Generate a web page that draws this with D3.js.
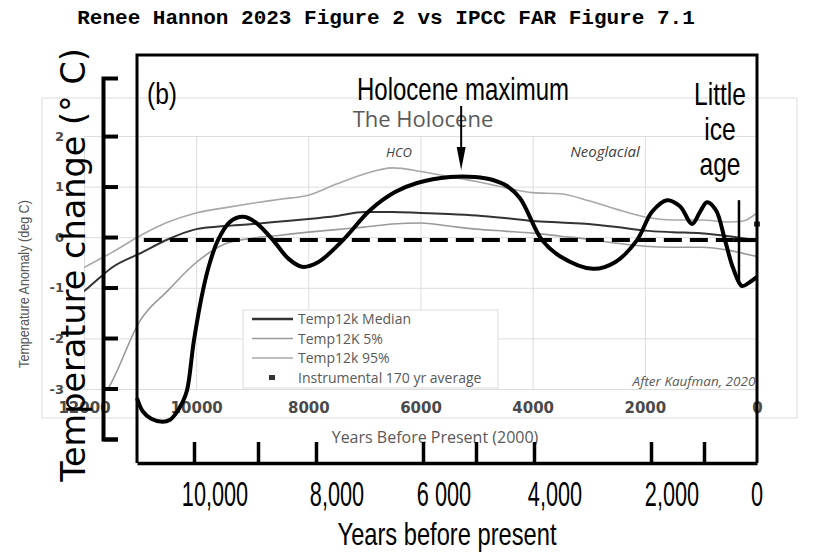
<!DOCTYPE html>
<html>
<head>
<meta charset="utf-8">
<script src="https://cdn.jsdelivr.net/npm/d3@7/dist/d3.min.js"></script>
<style>
    body { margin: 0; background: #fff; }
    svg { display: block; }
    .narrow { font-family: "Liberation Sans", Arial, sans-serif; }
    .xl { font-family: "Open Sans", "Liberation Sans", sans-serif; }
</style>
</head>
<body>
<svg width="829" height="559"></svg>
<script>
// Kaufman Temp12k curves (the grey background chart)
var kYears = [12000, 11700, 11500, 11000, 10500, 10000, 9500, 9000, 8500, 8000, 7500, 7000, 6500, 6000, 5500, 5000, 4500, 4000, 3500, 3000, 2500, 2000, 1500, 1000, 500, 250, 0];
var kMedian = [-1.07, -0.78, -0.60, -0.32, -0.04, 0.16, 0.22, 0.26, 0.31, 0.36, 0.42, 0.50, 0.50, 0.48, 0.46, 0.43, 0.38, 0.32, 0.29, 0.26, 0.20, 0.13, 0.10, 0.08, 0.02, -0.02, -0.06];
var k5 = [null, -3.25, -2.85, -1.65, -1.05, -0.50, -0.14, -0.02, 0.04, 0.10, 0.15, 0.20, 0.26, 0.28, 0.22, 0.16, 0.12, 0.08, 0.02, -0.04, -0.12, -0.18, -0.20, -0.20, -0.26, -0.32, -0.38];
var k95 = [-0.60, -0.42, -0.30, 0.03, 0.30, 0.48, 0.58, 0.67, 0.75, 0.83, 1.05, 1.25, 1.37, 1.30, 1.20, 1.10, 0.98, 0.88, 0.86, 0.72, 0.55, 0.40, 0.34, 0.34, 0.30, 0.32, 0.48];
var instYear = 0, instValue = 0.26;
var kXTicks = [12000, 10000, 8000, 6000, 4000, 2000, 0];
var kYTicks = [-3, -2, -1, 0, 1, 2];
var legendLabels = ["Temp12k Median", "Temp12K 5%", "Temp12k 95%", "Instrumental 170 yr average"];

// IPCC FAR 7.1(b) curve (the bold black chart)
var ipccYears = [11000, 10900, 10750, 10552, 10420, 10328, 10200, 10121, 10000, 9859, 9750, 9625, 9438, 9234, 9047, 8741, 8483, 8241, 7963, 7495, 6991, 6523, 6112, 5491, 5019, 4707, 4466, 4241, 3863, 3556, 2991, 2615, 2239, 1981, 1698, 1453, 1226, 1075, 943, 774, 604, 453, 283, 132, 0];
var ipccTemp = [-3.19, -3.45, -3.60, -3.66, -3.62, -3.51, -3.27, -3.03, -2.04, -1.05, -0.50, -0.06, 0.30, 0.40, 0.30, -0.06, -0.42, -0.59, -0.50, -0.06, 0.53, 0.89, 1.07, 1.19, 1.19, 1.13, 1.01, 0.77, -0.06, -0.38, -0.63, -0.50, -0.06, 0.50, 0.73, 0.61, 0.26, 0.50, 0.69, 0.53, -0.06, -0.61, -0.97, -0.89, -0.79];
var refLevel = -0.06;
var liaYear = 340, liaTop = 0.73, liaBottom = -0.87;
var holMaxYear = 5280;
var bTickYears = [10000, 9000, 8000, 6000, 5000, 4000, 2000, 1000];
var bLabelYears = [10000, 8000, 6000, 4000, 2000, 0];
var bLabels = ["10,000", "8,000", "6 000", "4,000", "2,000", "0"];
var bYTicks = [-4, -3, -2, -1, 0, 1, 2];

var svg = d3.select("svg");

// condensed looking text: Liberation Sans squeezed horizontally
function narrowText(x, y, size, sx, sy, str) {
    return svg.append("text").attr("class", "narrow")
        .attr("transform", "translate(" + x + "," + y + ")scale(" + sx + "," + sy + ")")
        .attr("text-anchor", "middle")
        .attr("font-size", size)
        .text(str);
}

// ---------- background chart (Kaufman 2020) ----------
var xA = d3.scaleLinear().domain([12000, 0]).range([84, 757]);
var yA = d3.scaleLinear().domain([-3, 2]).range([389, 136]);

svg.append("rect")
    .attr("x", 42).attr("y", 98).attr("width", 755).attr("height", 320)
    .attr("fill", "none").attr("stroke", "#dcdcdc");

var gridY = svg.append("g")
    .attr("transform", "translate(84,0)")
    .call(d3.axisLeft(yA).tickValues(kYTicks).tickSize(-673).tickPadding(20)
        .tickFormat(function (d) { return String(d); }));

var gridX = svg.append("g")
    .attr("transform", "translate(0,389)")
    .call(d3.axisBottom(xA).tickValues(kXTicks).tickSize(-253).tickPadding(13)
        .tickFormat(function (d) { return String(d); }));

[gridY, gridX].forEach(function (g) {
    g.select(".domain").remove();
    g.selectAll(".tick line").attr("stroke", "#dcdcdc");
    g.selectAll(".tick text")
        .attr("fill", "#4a4a4a")
        .attr("font-family", "DejaVu Sans, sans-serif")
        .attr("font-weight", "bold");
});
gridY.selectAll(".tick text").attr("font-size", 13);
gridX.selectAll(".tick text").attr("font-size", 15);

svg.append("clipPath").attr("id", "clipA")
    .append("rect").attr("x", 84).attr("y", 136).attr("width", 673).attr("height", 253);

var gA = svg.append("g").attr("clip-path", "url(#clipA)");

function kLine(values) {
    return d3.line()
        .defined(function (d, i) { return values[i] !== null; })
        .x(function (d, i) { return xA(kYears[i]); })
        .y(function (d, i) { return yA(values[i]); })
        .curve(d3.curveMonotoneX)(kYears);
}

var kSeries = [
    { values: k95, color: "#a8a8a8", width: 1.6 },
    { values: k5, color: "#9a9a9a", width: 1.6 },
    { values: kMedian, color: "#333333", width: 2 }
];
kSeries.forEach(function (s) {
    gA.append("path")
        .attr("d", kLine(s.values))
        .attr("fill", "none")
        .attr("stroke", s.color)
        .attr("stroke-width", s.width);
});

svg.append("rect")
    .attr("x", xA(instYear) - 3).attr("y", yA(instValue) - 2.5)
    .attr("width", 6).attr("height", 5)
    .attr("fill", "#333");

// legend
var leg = svg.append("g");
leg.append("rect")
    .attr("x", 243).attr("y", 310).attr("width", 255).attr("height", 78)
    .attr("fill", "#fff").attr("stroke", "#dcdcdc");
var legStyles = [
    { color: "#333333", width: 2.4 },
    { color: "#9a9a9a", width: 1.5 },
    { color: "#a8a8a8", width: 1.5 },
    null
];
legendLabels.forEach(function (label, i) {
    var y = 319 + i * 19.5;
    if (legStyles[i]) {
        leg.append("line")
            .attr("x1", 252).attr("x2", 293).attr("y1", y).attr("y2", y)
            .attr("stroke", legStyles[i].color).attr("stroke-width", legStyles[i].width);
    } else {
        leg.append("rect")
            .attr("x", 269).attr("y", y - 2.5).attr("width", 6).attr("height", 5)
            .attr("fill", "#333");
    }
    leg.append("text")
        .attr("class", "xl")
        .attr("x", 298).attr("y", y + 5)
        .attr("font-size", 14)
        .attr("fill", "#595959")
        .text(label);
});

// background chart texts
svg.append("text").attr("class", "xl")
    .attr("x", 423).attr("y", 127).attr("text-anchor", "middle")
    .attr("font-size", 22).attr("fill", "#595959")
    .text("The Holocene");
svg.append("text").attr("class", "xl")
    .attr("x", 399).attr("y", 157).attr("text-anchor", "middle")
    .attr("font-size", 13).attr("font-style", "italic").attr("fill", "#404040")
    .text("HCO");
svg.append("text").attr("class", "xl")
    .attr("x", 605).attr("y", 157).attr("text-anchor", "middle")
    .attr("font-size", 15).attr("font-style", "italic").attr("fill", "#404040")
    .text("Neoglacial");
svg.append("text").attr("class", "xl")
    .attr("x", 694).attr("y", 386).attr("text-anchor", "middle")
    .attr("font-size", 13.5).attr("font-style", "italic").attr("fill", "#595959")
    .text("After Kaufman, 2020");
svg.append("text").attr("class", "xl")
    .attr("x", 435).attr("y", 443).attr("text-anchor", "middle")
    .attr("font-size", 16).attr("fill", "#595959")
    .text("Years Before Present (2000)");
svg.append("text").attr("class", "narrow")
    .attr("transform", "translate(29,284)rotate(-90)scale(0.9,1)")
    .attr("text-anchor", "middle")
    .attr("font-size", 14).attr("fill", "#595959")
    .text("Temperature Anomaly (deg C)");

// ---------- foreground chart (IPCC FAR Figure 7.1 b) ----------
var xB = d3.scaleLinear()
    .domain([11000, 10000, 9000, 8000, 6000, 5000, 4000, 2000, 1000, 0])
    .range([137, 194, 258, 316, 423, 476, 534, 651, 704, 757]);
var yB = d3.scaleLinear().domain([-4, 3.15]).range([439, 78]);

// bracket axis on the left
var bracket = svg.append("g")
    .attr("transform", "translate(103,0)")
    .call(d3.axisRight(yB).tickValues(bYTicks).tickSize(15).tickSizeOuter(15).tickFormat(""));
bracket.selectAll("path, line").attr("stroke", "#000").attr("stroke-width", 4);

// frame
svg.append("path")
    .attr("d", "M" + xB(11000) + ",463V55H" + xB(0) + "V463")
    .attr("fill", "none").attr("stroke", "#000").attr("stroke-width", 3);

var axB = svg.append("g")
    .attr("transform", "translate(0,463)")
    .call(d3.axisBottom(xB).tickValues(bTickYears).tickSize(-21).tickSizeOuter(0).tickFormat(""));
axB.selectAll("path, line").attr("stroke", "#000").attr("stroke-width", 3.5);

bLabelYears.forEach(function (yr, i) {
    narrowText(xB(yr) + (yr > 0 ? 21 : 0), 506, 35, 0.62, 1, bLabels[i]);
});

// reference (dashed) level
svg.append("line")
    .attr("x1", xB(10880)).attr("x2", xB(450))
    .attr("y1", yB(refLevel)).attr("y2", yB(refLevel))
    .attr("stroke", "#000").attr("stroke-width", 4)
    .attr("stroke-dasharray", "18,8");
svg.append("line")
    .attr("x1", xB(450)).attr("x2", xB(0))
    .attr("y1", yB(refLevel)).attr("y2", yB(refLevel))
    .attr("stroke", "#000").attr("stroke-width", 4);

// the curve
var ipccLine = d3.line()
    .x(function (d, i) { return xB(ipccYears[i]); })
    .y(function (d, i) { return yB(ipccTemp[i]); })
    .curve(d3.curveCatmullRom.alpha(0.5));
svg.append("path")
    .attr("d", ipccLine(ipccYears))
    .attr("fill", "none")
    .attr("stroke", "#000")
    .attr("stroke-width", 4)
    .attr("stroke-linejoin", "round");

// little ice age marker
svg.append("line")
    .attr("x1", xB(liaYear)).attr("x2", xB(liaYear))
    .attr("y1", yB(liaTop)).attr("y2", yB(liaBottom))
    .attr("stroke", "#000").attr("stroke-width", 2.5);

// Holocene maximum arrow
var ax = xB(holMaxYear);
svg.append("line")
    .attr("x1", ax).attr("x2", ax).attr("y1", 106).attr("y2", 150)
    .attr("stroke", "#000").attr("stroke-width", 2);
svg.append("path")
    .attr("d", "M" + (ax - 4.5) + ",147L" + (ax + 4.5) + ",147L" + ax + ",170Z")
    .attr("fill", "#000");

// foreground texts
narrowText(162, 104, 30, 0.82, 1, "(b)");
narrowText(463, 100, 30, 0.8, 1.02, "Holocene maximum");
["Little", "ice", "age"].forEach(function (w, i) {
    narrowText(720, [105, 140, 175][i], 30, 0.82, 1.05, w);
});
narrowText(447, 545, 30, 0.79, 1.03, "Years before present");
svg.append("text")
    .attr("transform", "translate(85,265)rotate(-90)")
    .attr("text-anchor", "middle")
    .attr("font-family", "DejaVu Sans, sans-serif")
    .attr("font-size", 33.5)
    .text("Temperature change (° C)");

// page title
svg.append("text")
    .attr("x", 386).attr("y", 24).attr("text-anchor", "middle")
    .attr("font-family", "Liberation Mono, Courier New, monospace")
    .attr("font-weight", "bold").attr("font-size", 21)
    .text("Renee Hannon 2023 Figure 2 vs IPCC FAR Figure 7.1");
</script>
</body>
</html>
